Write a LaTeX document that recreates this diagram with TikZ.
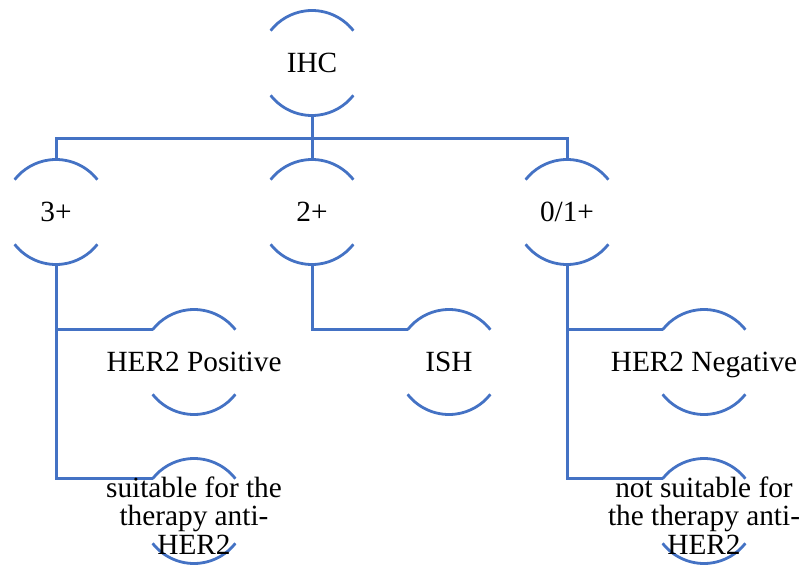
\documentclass[tikz,border=0pt]{standalone}
\usepackage{fontspec}
\setmainfont{Liberation Serif}
\usetikzlibrary{backgrounds}
\definecolor{smartblue}{RGB}{68,114,196}

\begin{document}
\begin{tikzpicture}[x=1pt,y=1pt,
  every node/.style={minimum width=105pt, minimum height=105pt, inner sep=0pt, outer sep=0pt,
    text depth=0pt, align=center, font=\fontsize{29.3}{28.5}\selectfont},
  ring/.style={smartblue, line width=2.8pt},
  link/.style={smartblue, line width=3pt}]
\useasboundingbox (0,0) rectangle (802,566);

\node (ihc) at (312,503) {IHC};

\node (p3) at (56,354) {3+};
\node (p2) at (312,354) {2+};
\node (p01) at (567,354) {0/1+};

\node (pos) at (194,204) {HER2 Positive};
\node (ish) at (449,204) {ISH};
\node (neg) at (704,204) {HER2 Negative};

\node (suit) at (194,55) {\rule{0pt}{29pt}suitable for the\\therapy anti-\\HER2};
\node (nsuit) at (704,55) {\rule{0pt}{29pt}not suitable for\\the therapy anti-\\HER2};

\coordinate (bus) at (312,427);

\begin{scope}[on background layer]
% open rings
\foreach \n in {ihc,p3,p2,p01,pos,ish,neg,suit,nsuit} {
  \draw[ring] ([shift={(38:52.5pt)}]\n.center) arc[start angle=38, end angle=142, radius=52.5pt];
  \draw[ring] ([shift={(218:52.5pt)}]\n.center) arc[start angle=218, end angle=322, radius=52.5pt];
}
% connectors
\draw[link] (ihc.south) -- (p2.north);
\draw[link] (p3.north) |- (bus) -| (p01.north);
\draw[link] (p3.south) |- ([shift={(142:52.5pt)}]pos.center);
\draw[link] (p3.south) |- ([shift={(142:52.5pt)}]suit.center);
\draw[link] (p2.south) |- ([shift={(142:52.5pt)}]ish.center);
\draw[link] (p01.south) |- ([shift={(142:52.5pt)}]neg.center);
\draw[link] (p01.south) |- ([shift={(142:52.5pt)}]nsuit.center);
\end{scope}
\end{tikzpicture}
\end{document}
